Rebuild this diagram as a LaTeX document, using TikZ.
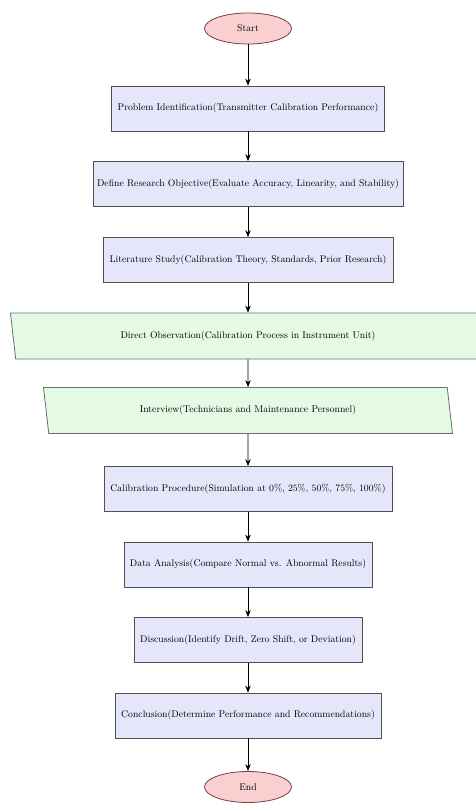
\documentclass[tikz,border=0pt]{standalone}
\usetikzlibrary{arrows.meta,positioning,shapes.geometric}
\definecolor{termfill}{HTML}{F9CFCF}
\definecolor{termdraw}{HTML}{7A3C3C}
\definecolor{procfill}{HTML}{E6E6FA}
\definecolor{procdraw}{HTML}{505050}
\definecolor{iofill}{HTML}{E4FAE4}
\definecolor{iodraw}{HTML}{667366}
\tikzset{
  termbox/.style={ellipse, draw=termdraw, fill=termfill, line width=0.8pt, minimum width=87pt, minimum height=31pt,
              inner sep=1pt},
  procbox/.style={rectangle, draw=procdraw, fill=procfill, line width=0.8pt, minimum height=45pt, inner sep=2pt},
  iobox/.style={trapezium, trapezium left angle=102, trapezium right angle=78, trapezium stretches=true,
              draw=iodraw, fill=iofill, line width=0.8pt, minimum height=46pt, inner sep=2pt},
  arr/.style={-{Stealth[length=7pt,width=5.5pt]}, line width=0.7pt},
}

\begin{document}
\begin{tikzpicture}[x=1pt, y=-1pt, font=\fontsize{9.7}{11.5}\selectfont]
    \useasboundingbox (0,0) rectangle (476,807);
    \node[termbox] (start) at (248,28.5) {Start};
    \node[procbox, minimum width=273pt] (p1) at (248,108.5) {Problem Identification(Transmitter Calibration Performance)};
    \node[procbox, minimum width=310pt] (p2) at (248,184) {Define Research Objective(Evaluate Accuracy, Linearity, and Stability)};
    \node[procbox, minimum width=290pt] (p3) at (248,260) {Literature Study(Calibration Theory, Standards, Prior Research)};
    \node[iobox, minimum width=476pt] (io1) at (248,336) {Direct Observation(Calibration Process in Instrument Unit)};
    \node[iobox, minimum width=410pt] (io2) at (248,410.5) {Interview(Technicians and Maintenance Personnel)};
    \node[procbox, minimum width=288pt] (p4) at (248,489) {Calibration Procedure(Simulation at 0\%, 25\%, 50\%, 75\%, 100\%)};
    \node[procbox, minimum width=248pt] (p5) at (248,564.5) {Data Analysis(Compare Normal vs. Abnormal Results)};
    \node[procbox, minimum width=228pt] (p6) at (248,640) {Discussion(Identify Drift, Zero Shift, or Deviation)};
    \node[procbox, minimum width=266pt] (p7) at (248,715.5) {Conclusion(Determine Performance and Recommendations)};
    \node[termbox] (end) at (248,787) {End};
    \draw[arr] (start)--(p1); \draw[arr] (p1)--(p2); \draw[arr] (p2)--(p3);
    \draw[arr] (p3)--(io1); \draw[arr] (io1)--(io2); \draw[arr] (io2)--(p4);
    \draw[arr] (p4)--(p5); \draw[arr] (p5)--(p6); \draw[arr] (p6)--(p7);
    \draw[arr] (p7)--(end);
  \end{tikzpicture}
\end{document}
